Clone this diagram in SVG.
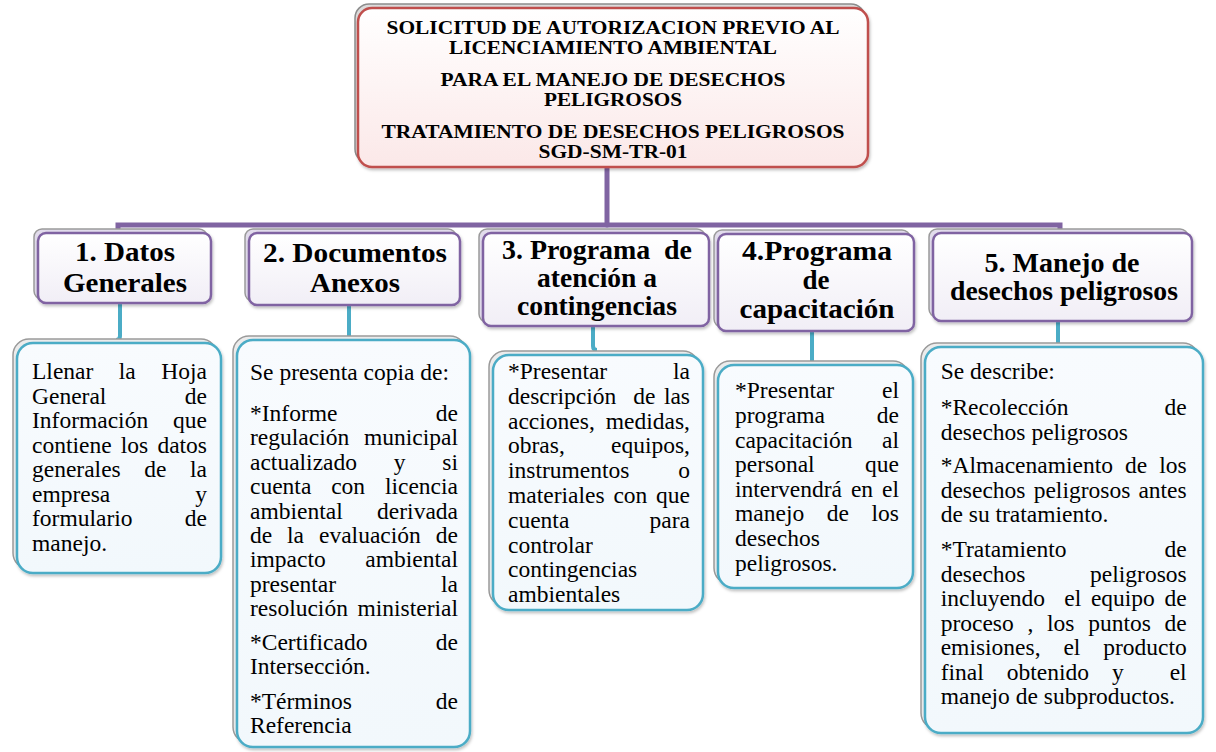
<svg xmlns="http://www.w3.org/2000/svg" width="1216" height="752" viewBox="0 0 1216 752" font-family="'Liberation Serif', 'Times New Roman', serif">
<defs>
<style>
.t{font-family:'Liberation Serif','Times New Roman',serif;font-size:23.5px;fill:#000}
.h{font-family:'Liberation Serif','Times New Roman',serif;font-size:27px;font-weight:bold;fill:#000;text-anchor:middle}
.ti{font-family:'Liberation Serif','Times New Roman',serif;font-size:19px;font-weight:bold;fill:#000;text-anchor:middle}
.backR{fill:#dcdcdc;stroke:#8c8c8c;stroke-width:1.5}
.frontR{fill:url(#gR);stroke:#c0504d;stroke-width:2.5;filter:url(#sh)}
.backP{fill:#e2dcec;stroke:#9a9a9a;stroke-width:1.5}
.frontP{fill:url(#gP);stroke:#8064a2;stroke-width:2.5;filter:url(#sh)}
.backB{fill:#ececec;stroke:#9a9a9a;stroke-width:1.5}
.frontB{fill:url(#gB);stroke:#4bacc6;stroke-width:2.5;filter:url(#sh)}
.cp{stroke:#8064a2;stroke-width:5;fill:none;stroke-linecap:round}
.cb{stroke:#4bacc6;stroke-width:4;fill:none}
</style>
<linearGradient id="gR" x1="0" y1="0" x2="0" y2="1"><stop offset="0" stop-color="#ffffff"/><stop offset="1" stop-color="#fbe8e8"/></linearGradient>
<linearGradient id="gP" x1="0" y1="0" x2="0" y2="1"><stop offset="0" stop-color="#ffffff"/><stop offset="1" stop-color="#f1eef6"/></linearGradient>
<linearGradient id="gB" x1="0" y1="0" x2="0" y2="1"><stop offset="0" stop-color="#f8fbfe"/><stop offset="1" stop-color="#f2f8fc"/></linearGradient>
<filter id="sh" x="-5%" y="-5%" width="110%" height="115%"><feDropShadow dx="1" dy="2" stdDeviation="1.5" flood-color="#000" flood-opacity="0.25"/></filter>
</defs>
<rect width="1216" height="752" fill="#ffffff"/>

<g id="connectors">
<path class="cp" d="M607,167 V225"/>
<path class="cp" d="M118,231 V225 H1060 V229"/>
<path class="cb" d="M120,303 V336 Q120,340 116,340"/>
<path class="cb" d="M349,305 V338"/>
<path class="cb" d="M593,326 V346 Q593,350 597,350"/>
<path class="cb" d="M812,331 V362"/>
<path class="cb" d="M1058,321 V344"/>
</g>

<g id="title">
<rect class="backR" x="355" y="4" width="510" height="159" rx="14"/>
<rect class="frontR" x="358" y="8" width="510" height="159" rx="14"/>
<text class="ti" x="613" y="34" textLength="453" lengthAdjust="spacingAndGlyphs">SOLICITUD DE AUTORIZACION PREVIO AL</text>
<text class="ti" x="613" y="54" textLength="328" lengthAdjust="spacingAndGlyphs">LICENCIAMIENTO AMBIENTAL</text>
<text class="ti" x="613" y="86" textLength="345" lengthAdjust="spacingAndGlyphs">PARA EL MANEJO DE DESECHOS</text>
<text class="ti" x="613" y="106" textLength="138" lengthAdjust="spacingAndGlyphs">PELIGROSOS</text>
<text class="ti" x="613" y="138" textLength="463" lengthAdjust="spacingAndGlyphs">TRATAMIENTO DE DESECHOS PELIGROSOS</text>
<text class="ti" x="613" y="158" textLength="149" lengthAdjust="spacingAndGlyphs">SGD-SM-TR-01</text>
</g>

<g id="h1">
<rect class="backP" x="34" y="229" width="173" height="70" rx="8"/>
<rect class="frontP" x="38" y="233" width="173" height="70" rx="8"/>
<text class="h" x="125" y="261" textLength="100" lengthAdjust="spacingAndGlyphs">1. Datos</text>
<text class="h" x="125" y="292" textLength="124" lengthAdjust="spacingAndGlyphs">Generales</text>
</g>
<g id="h2">
<rect class="backP" x="245" y="229" width="211" height="72" rx="8"/>
<rect class="frontP" x="249" y="233" width="211" height="72" rx="8"/>
<text class="h" x="355" y="262" textLength="184" lengthAdjust="spacingAndGlyphs">2. Documentos</text>
<text class="h" x="355" y="292" textLength="90" lengthAdjust="spacingAndGlyphs">Anexos</text>
</g>
<g id="h3">
<rect class="backP" x="479" y="229" width="226" height="93" rx="8"/>
<rect class="frontP" x="483" y="233" width="226" height="93" rx="8"/>
<text class="h" x="597" y="259" textLength="190" lengthAdjust="spacingAndGlyphs" xml:space="preserve">3. Programa  de</text>
<text class="h" x="597" y="287" textLength="120" lengthAdjust="spacingAndGlyphs">atención a</text>
<text class="h" x="597" y="315" textLength="160" lengthAdjust="spacingAndGlyphs">contingencias</text>
</g>
<g id="h4">
<rect class="backP" x="714" y="230" width="196" height="97" rx="8"/>
<rect class="frontP" x="718" y="234" width="196" height="97" rx="8"/>
<text class="h" x="817" y="260" textLength="150" lengthAdjust="spacingAndGlyphs">4.Programa</text>
<text class="h" x="816" y="289">de</text>
<text class="h" x="817" y="318" textLength="155" lengthAdjust="spacingAndGlyphs">capacitación</text>
</g>
<g id="h5">
<rect class="backP" x="929" y="229" width="259" height="88" rx="8"/>
<rect class="frontP" x="933" y="233" width="259" height="88" rx="8"/>
<text class="h" x="1062" y="272" textLength="155" lengthAdjust="spacingAndGlyphs">5. Manejo de</text>
<text class="h" x="1064" y="300" textLength="228" lengthAdjust="spacingAndGlyphs">desechos peligrosos</text>
</g>

<g id="b1">
<rect class="backB" x="13" y="339" width="204" height="230" rx="16"/>
<rect class="frontB" x="17" y="343" width="204" height="230" rx="16"/>
<text class="t" y="379"><tspan x="32">Llenar</tspan><tspan x="118.8">la</tspan><tspan x="161.3">Hoja</tspan></text>
<text class="t" y="403.5"><tspan x="32">General</tspan><tspan x="184.8">de</tspan></text>
<text class="t" y="428"><tspan x="32">Información</tspan><tspan x="173.1">que</tspan></text>
<text class="t" y="452.5"><tspan x="32">contiene</tspan><tspan x="120.8">los</tspan><tspan x="157.4">datos</tspan></text>
<text class="t" y="477"><tspan x="32">generales</tspan><tspan x="144.3">de</tspan><tspan x="190">la</tspan></text>
<text class="t" y="501.5"><tspan x="32">empresa</tspan><tspan x="195.25">y</tspan></text>
<text class="t" y="526"><tspan x="32">formulario</tspan><tspan x="184.8">de</tspan></text>
<text class="t" x="32" y="550.5">manejo.</text>
</g>

<g id="b2">
<rect class="backB" x="233" y="336" width="233" height="407" rx="16"/>
<rect class="frontB" x="237" y="340" width="233" height="407" rx="16"/>
<text class="t" x="250" y="380">Se presenta copia de:</text>
<text class="t" y="421"><tspan x="250">*Informe</tspan><tspan x="435.8">de</tspan></text>
<text class="t" y="445.4"><tspan x="250">regulación</tspan><tspan x="364">municipal</tspan></text>
<text class="t" y="469.8"><tspan x="250">actualizado</tspan><tspan x="393.8">y</tspan><tspan x="442.3">si</tspan></text>
<text class="t" y="494.2"><tspan x="250">cuenta</tspan><tspan x="331.2">con</tspan><tspan x="384.9">licencia</tspan></text>
<text class="t" y="518.6"><tspan x="250">ambiental</tspan><tspan x="377.1">derivada</tspan></text>
<text class="t" y="543"><tspan x="250">de</tspan><tspan x="287.1">la</tspan><tspan x="319">evaluación</tspan><tspan x="435.8">de</tspan></text>
<text class="t" y="567.4"><tspan x="250">impacto</tspan><tspan x="365.3">ambiental</tspan></text>
<text class="t" y="591.8"><tspan x="250">presentar</tspan><tspan x="441">la</tspan></text>
<text class="t" y="616.2"><tspan x="250">resolución</tspan><tspan x="357.5">ministerial</tspan></text>
<text class="t" y="650"><tspan x="250">*Certificado</tspan><tspan x="435.8">de</tspan></text>
<text class="t" x="250" y="674.4">Intersección.</text>
<text class="t" y="709"><tspan x="250">*Términos</tspan><tspan x="435.8">de</tspan></text>
<text class="t" x="250" y="733.4">Referencia</text>
</g>

<g id="b3">
<rect class="backB" x="489" y="351" width="210" height="255" rx="16"/>
<rect class="frontB" x="493" y="355" width="210" height="255" rx="16"/>
<text class="t" y="379"><tspan x="508">*Presentar</tspan><tspan x="673">la</tspan></text>
<text class="t" y="403.8"><tspan x="508">descripción</tspan><tspan x="633.2">de</tspan><tspan x="663.9">las</tspan></text>
<text class="t" y="428.6"><tspan x="508">acciones,</tspan><tspan x="605.8">medidas,</tspan></text>
<text class="t" y="453.4"><tspan x="508">obras,</tspan><tspan x="611">equipos,</tspan></text>
<text class="t" y="478.2"><tspan x="508">instrumentos</tspan><tspan x="678.25">o</tspan></text>
<text class="t" y="503"><tspan x="508">materiales</tspan><tspan x="613.4">con</tspan><tspan x="656.1">que</tspan></text>
<text class="t" y="527.8"><tspan x="508">cuenta</tspan><tspan x="649.6">para</tspan></text>
<text class="t" x="508" y="552.6">controlar</text>
<text class="t" x="508" y="577.4">contingencias</text>
<text class="t" x="508" y="602.2">ambientales</text>
</g>

<g id="b4">
<rect class="backB" x="714" y="361" width="195" height="223" rx="16"/>
<rect class="frontB" x="718" y="365" width="195" height="223" rx="16"/>
<text class="t" y="398.3"><tspan x="735">*Presentar</tspan><tspan x="882">el</tspan></text>
<text class="t" y="422.9"><tspan x="735">programa</tspan><tspan x="876.8">de</tspan></text>
<text class="t" y="447.5"><tspan x="735">capacitación</tspan><tspan x="882">al</tspan></text>
<text class="t" y="472.1"><tspan x="735">personal</tspan><tspan x="865.1">que</tspan></text>
<text class="t" y="496.7"><tspan x="735">intervendrá</tspan><tspan x="850.9">en</tspan><tspan x="882">el</tspan></text>
<text class="t" y="521.3"><tspan x="735">manejo</tspan><tspan x="826.8">de</tspan><tspan x="871.6">los</tspan></text>
<text class="t" x="735" y="545.9">desechos</text>
<text class="t" x="735" y="570.5">peligrosos.</text>
</g>

<g id="b5">
<rect class="backB" x="921" y="343" width="278" height="386" rx="16"/>
<rect class="frontB" x="925" y="347" width="278" height="386" rx="16"/>
<text class="t" x="940.7" y="379">Se describe:</text>
<text class="t" y="415"><tspan x="940.7">*Recolección</tspan><tspan x="1164.5">de</tspan></text>
<text class="t" x="940.7" y="439.5">desechos peligrosos</text>
<text class="t" y="473"><tspan x="940.7">*Almacenamiento</tspan><tspan x="1125">de</tspan><tspan x="1159.3">los</tspan></text>
<text class="t" y="497.5"><tspan x="940.7">desechos</tspan><tspan x="1033.7">peligrosos</tspan><tspan x="1138.4">antes</tspan></text>
<text class="t" x="940.7" y="522">de su tratamiento.</text>
<text class="t" y="557"><tspan x="940.7">*Tratamiento</tspan><tspan x="1164.5">de</tspan></text>
<text class="t" y="581.5"><tspan x="940.7">desechos</tspan><tspan x="1090.1">peligrosos</tspan></text>
<text class="t" y="606"><tspan x="940.7">incluyendo</tspan><tspan x="1064.3">el</tspan><tspan x="1090.9">equipo</tspan><tspan x="1164.5">de</tspan></text>
<text class="t" y="630.5"><tspan x="940.7">proceso</tspan><tspan x="1027.5">,</tspan><tspan x="1047.1">los</tspan><tspan x="1088.2">puntos</tspan><tspan x="1164.5">de</tspan></text>
<text class="t" y="655"><tspan x="940.7">emisiones,</tspan><tspan x="1063.4">el</tspan><tspan x="1103.2">producto</tspan></text>
<text class="t" y="679.5"><tspan x="940.7">final</tspan><tspan x="1006.8">obtenido</tspan><tspan x="1112.1">y</tspan><tspan x="1169.7">el</tspan></text>
<text class="t" x="940.7" y="704">manejo de subproductos.</text>
</g>
</svg>
